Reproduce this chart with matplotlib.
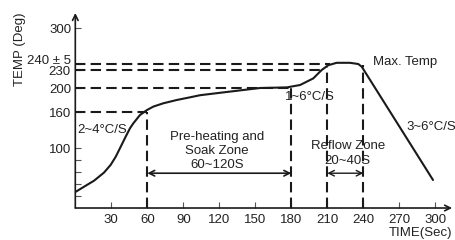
import matplotlib.pyplot as plt

plt.rcParams['font.family'] = ['Liberation Sans', 'DejaVu Sans']

# reflow profile
time_s = [0.3, 7.3, 15.6, 23.9, 29.5, 33.7, 37.8, 42, 45.6, 48.3, 53.9, 59.5, 65,
          73.3, 84.5, 95.6, 104, 120.5, 137.2, 153.9, 176.2, 187.3, 198.3, 205.3,
          210.8, 217.8, 228.9, 235.8, 238.7, 298.1]
temp_c = [27, 35.5, 45.5, 59, 72, 85.5, 102, 119, 133, 141, 155, 163, 169,
          174.5, 180, 184.5, 188, 192, 196, 200, 201, 205, 216, 230,
          238, 242, 242, 240, 235.5, 46.7]

x_ticks = [30, 60, 90, 120, 150, 180, 210, 240, 270, 300]
y_ticks = [100, 160, 200, 230, 240, 300]
y_labels = ['100', '160', '200', '', '', '300']

# dashed guide lines: (level, end time)
h_guides = [(160, 60), (200, 180), (230, 205), (240, 212)]
# vertical guides: (time, top temp)
v_guides = [(60, 160), (180, 200), (210, 235), (240, 239)]

fig = plt.figure(figsize=(4.55, 2.4), dpi=100)
ax = fig.add_axes([0.1655, 0.1333, 0.8334, 0.8125])
ax.set_xlim(0, 316)
ax.set_ylim(0, 325)
for s in ax.spines.values():
    s.set_visible(False)

ink = '#1a1a1a'
grey = '#222222'
dash = (0, (5, 2.5))
fs = 9.5

ax.plot(time_s, temp_c, color=ink, lw=1.5, solid_capstyle='round', solid_joinstyle='round')

for lvl, end in h_guides:
    ax.plot([0, end], [lvl, lvl], color=ink, lw=1.5, linestyle=dash)
for t, top in v_guides:
    ax.plot([t, t], [0, top], color=ink, lw=1.5, linestyle=dash)

# axes with arrow heads
ax.annotate('', xy=(0, 325), xytext=(0, 0),
            arrowprops=dict(arrowstyle='->', color=ink, lw=1.2, shrinkA=0, shrinkB=0))
ax.annotate('', xy=(314, 0), xytext=(0, 0),
            arrowprops=dict(arrowstyle='->', color=ink, lw=1.2, shrinkA=0, shrinkB=0))

ax.set_xticks(x_ticks)
ax.set_xticklabels([str(v) for v in x_ticks])
ax.set_yticks(y_ticks)
ax.set_yticklabels(y_labels)
ax.set_yticks([20, 40, 60, 80], minor=True)
ax.tick_params(axis='both', which='both', direction='in', length=4, width=0.8,
               color='#555555', labelsize=fs, labelcolor=grey)
ax.tick_params(axis='x', pad=4)
ax.tick_params(axis='y', pad=3)

# the two crowded labels are nudged apart as in the original
ax.text(-4, 245, '240 ± 5', ha='right', va='center', fontsize=fs, color=grey)
ax.text(-4, 226, '230', ha='right', va='center', fontsize=fs, color=grey)

ax.text(-46, 265, 'TEMP (Deg)', rotation=90, ha='center', va='center', fontsize=fs, color=grey)
ax.text(314, -42, 'TIME(Sec)', ha='right', va='center', fontsize=fs, color=grey)

txt = dict(fontsize=fs, color=grey)
ax.text(1.4, 130, '2~4°C/S', ha='left', va='center', **txt)
ax.text(118, 95, 'Pre-heating and\nSoak Zone\n60~120S', ha='center', va='center',
        linespacing=1.2, **txt)
ax.text(175, 185, '1~6°C/S', ha='left', va='center', **txt)
ax.text(248, 243, 'Max. Temp', ha='left', va='center', **txt)
ax.text(276, 135, '3~6°C/S', ha='left', va='center', **txt)
ax.text(227, 91, 'Reflow Zone\n20~40S', ha='center', va='center', linespacing=1.4, **txt)

ax.annotate('', xy=(60, 58), xytext=(180, 58),
            arrowprops=dict(arrowstyle='<->', color=ink, lw=1.2, shrinkA=0, shrinkB=0))
ax.annotate('', xy=(210, 58), xytext=(240, 58),
            arrowprops=dict(arrowstyle='<->', color=ink, lw=1.0, shrinkA=0, shrinkB=0))

fig.savefig('out.png', dpi=100)
